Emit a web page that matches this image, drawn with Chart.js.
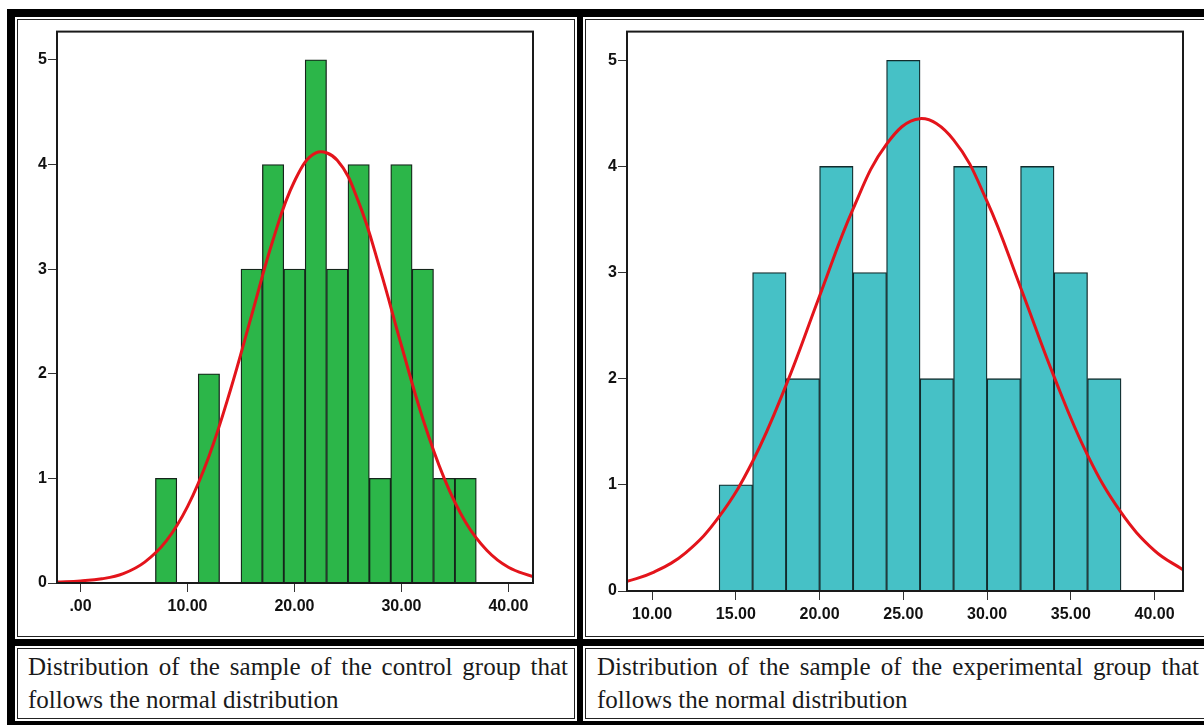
<!DOCTYPE html>
<html>
<head>
<meta charset="utf-8">
<script src="https://cdn.jsdelivr.net/npm/chart.js@4/dist/chart.umd.min.js"></script>
<style>
  body { margin: 0; background: #fff; width: 1204px; height: 725px; overflow: hidden; position: relative; }
  #frame { position: absolute; left: 7px; top: 9px; width: 1240px; height: 740px; background: #000; }
  .cell { position: absolute; background: #fff; }
  .cell .line { position: absolute; left: 2px; top: 2px; right: 2px; bottom: 2px; border: 1px solid #222; }
  .cap { position: absolute; font-family: "Liberation Serif", "Times New Roman", serif; font-size: 25px;
         line-height: 33px; color: #1a1a1a; text-align: justify; }
  canvas { position: absolute; }
</style>
</head>
<body>
<div id="frame"></div>
<div class="cell" style="left:15px;top:17px;width:562px;height:622px"><div class="line"></div></div>
<div class="cell" style="left:583px;top:17px;width:640px;height:622px"><div class="line"></div></div>
<div class="cell" style="left:15px;top:646px;width:562px;height:75px"><div class="line"></div></div>
<div class="cell" style="left:583px;top:646px;width:640px;height:75px"><div class="line"></div></div>
<div class="cap" style="left:28px;top:650px;width:540px">Distribution of the sample of the control group that follows the normal distribution</div>
<div class="cap" style="left:597px;top:650px;width:602px">Distribution of the sample of the experimental group that follows the normal distribution</div>
<canvas id="c1" width="556" height="615" style="left:19px;top:21px"></canvas>
<canvas id="c2" width="617" height="615" style="left:587px;top:21px"></canvas>
<script>
// control group histogram (bin centres, bin width 2)
var controlMids = [8, 12, 16, 18, 20, 22, 24, 26, 28, 30, 32, 34, 36];
var controlCounts = [1, 2, 3, 4, 3, 5, 3, 4, 1, 4, 3, 1, 1];
// normal curve
var controlCurveX = [-2.2, 0, 2, 4, 6, 8, 10, 12, 14, 16, 18, 20, 22, 24, 26, 28, 30, 32, 34, 36, 38, 40, 42.3];
var controlCurveY = [0.01, 0.02, 0.04, 0.09, 0.20, 0.40, 0.73, 1.21, 1.84, 2.56, 3.28, 3.84, 4.11, 4.04, 3.64, 3.00, 2.27, 1.57, 1.00, 0.58, 0.31, 0.15, 0.06];
var controlTicks = [0, 10, 20, 30, 40];
var controlTickLabels = [".00", "10.00", "20.00", "30.00", "40.00"];

// experimental group histogram
var expMids = [15, 17, 19, 21, 23, 25, 27, 29, 31, 33, 35, 37];
var expCounts = [1, 3, 2, 4, 3, 5, 2, 4, 2, 4, 3, 2];
var expCurveX = [8.5, 10, 12, 14, 16, 18, 20, 22, 24, 26, 28, 30, 32, 34, 36, 38, 40, 41.7];
var expCurveY = [0.09, 0.17, 0.36, 0.70, 1.22, 1.94, 2.78, 3.60, 4.21, 4.45, 4.25, 3.67, 2.86, 2.02, 1.28, 0.74, 0.38, 0.20];
var expTicks = [10, 15, 20, 25, 30, 35, 40];
var expTickLabels = ["10.00", "15.00", "20.00", "25.00", "30.00", "35.00", "40.00"];

var yTicks = [0, 1, 2, 3, 4, 5];
var yTickLabels = ["0", "1", "2", "3", "4", "5"];

var axisFont = { family: '"Liberation Sans", Arial, sans-serif', size: 16, weight: 'bold' };

var boxPlugin = {
  id: 'box',
  afterDatasetsDraw: function(chart) {
    var a = chart.chartArea, ctx = chart.ctx;
    ctx.save();
    ctx.strokeStyle = '#1a1a1a';
    ctx.lineWidth = 2;
    ctx.strokeRect(a.left, a.top, a.right - a.left, a.bottom - a.top);
    ctx.restore();
  }
};

function histo(id, mids, counts, cx, cy, xmin, xmax, ticks, tickLabels, fill, edge, pad, yw, xh) {
  var bars = mids.map(function(m, i) { return { x: m, y: counts[i] }; });
  var curve = cx.map(function(x, i) { return { x: x, y: cy[i] }; });
  new Chart(document.getElementById(id), {
    type: 'bar',
    data: {
      datasets: [
        { type: 'line', data: curve, borderColor: '#e3141b', borderWidth: 3, pointRadius: 0, tension: 0.4, order: 0 },
        { type: 'bar', data: bars, backgroundColor: fill, borderColor: edge, borderWidth: 1.3,
          barPercentage: 1, categoryPercentage: 1, order: 1 }
      ]
    },
    options: {
      responsive: false,
      animation: false,
      layout: { padding: pad },
      plugins: { legend: { display: false }, tooltip: { enabled: false } },
      scales: {
        x: {
          type: 'linear', min: xmin, max: xmax, offset: false,
          afterBuildTicks: function(s) { s.ticks = ticks.map(function(v) { return { value: v }; }); },
          afterFit: function(s) { s.height = xh; },
          grid: { offset: false, drawOnChartArea: false, drawTicks: true, tickLength: 9, color: '#333' },
          border: { display: false },
          ticks: { font: axisFont, color: '#111', padding: 5, maxRotation: 0, autoSkip: false,
                   callback: function(v) { return tickLabels[ticks.indexOf(v)]; } }
        },
        y: {
          min: 0, max: 5.27,
          afterBuildTicks: function(s) { s.ticks = yTicks.map(function(v) { return { value: v }; }); },
          afterFit: function(s) { s.width = yw; },
          grid: { drawOnChartArea: false, drawTicks: true, tickLength: 9, color: '#333' },
          border: { display: false },
          ticks: { font: axisFont, color: '#111', padding: 1,
                   callback: function(v) { return yTickLabels[yTicks.indexOf(v)]; } }
        }
      }
    },
    plugins: [boxPlugin]
  });
}

histo('c1', controlMids, controlCounts, controlCurveX, controlCurveY, -2.2, 42.3, controlTicks, controlTickLabels,
      '#2cb649', '#15251b', { left: 0, top: 7, right: 42, bottom: 0 }, 38, 53);
histo('c2', expMids, expCounts, expCurveX, expCurveY, 8.5, 41.7, expTicks, expTickLabels,
      '#46c1c6', '#122b2c', { left: 0, top: 7, right: 21, bottom: 0 }, 40, 45);
</script>
</body>
</html>
